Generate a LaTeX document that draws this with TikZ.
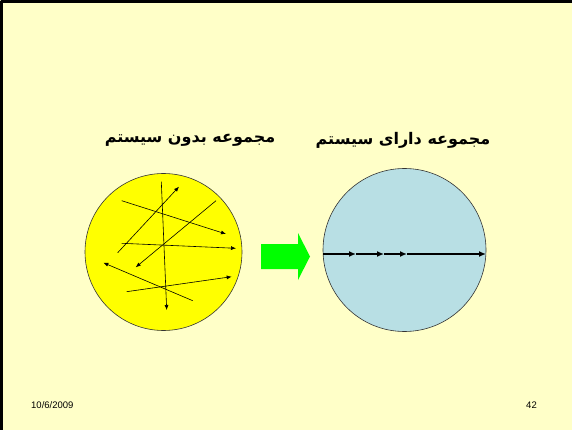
\documentclass[tikz,border=0pt]{standalone}
\usepackage{fontspec}
\setmainfont{Liberation Sans}
\newfontfamily\arabicfont[Script=Arabic]{DejaVu Sans}
\TeXXeTstate=1
\usetikzlibrary{arrows.meta}
\definecolor{slidebg}{HTML}{FFFFC8}
\definecolor{setyellow}{HTML}{FFFF00}
\definecolor{setblue}{HTML}{B8DFE4}
\definecolor{goarrow}{HTML}{00FF00}
\tikzset{
  loose/.style={line width=0.6pt, -{Latex[length=5pt,width=4pt]}},
  ordered/.style={line width=1.5pt, -{Latex[length=7pt,width=6pt]}},
  settitle/.style={font=\arabicfont\bfseries\fontsize{16}{18}\selectfont, inner sep=0pt},
  footer/.style={font=\fontsize{9.5}{11}\selectfont, inner sep=0pt}
}
\begin{document}
\begin{tikzpicture}[x=1pt, y=-1pt, line join=round]
    % fondo de la diapositiva 572 x 430
    \fill[slidebg] (0,0) rectangle (572,430);
    \useasboundingbox (0,0) rectangle (572,430);
    \draw[line width=3pt] (1.5,430) -- (1.5,1.5) -- (572,1.5);
    % titulos
    \node[settitle] (tleft) at (190,140) {\beginR مجموعه بدون سیستم\endR};
    \node[settitle] (tright) at (403,140) {\beginR مجموعه دارای سیستم\endR};
    % conjunto sin sistema
    \fill[setyellow] (163.5,252) circle (78.5);
    \draw[line width=0.6pt, black!80] (163.5,252) circle (78.5);
    \coordinate (a1) at (117.7,252.7); \coordinate (b1) at (179,186.7);
    \coordinate (a2) at (121.7,200.7); \coordinate (b2) at (226,234);
    \coordinate (a3) at (216,200.7);   \coordinate (b3) at (135.7,267.3);
    \coordinate (a4) at (161.3,181.7); \coordinate (b4) at (166.7,310);
    \coordinate (a5) at (121.7,243.3); \coordinate (b5) at (236,248.3);
    \coordinate (a6) at (192.7,300.7); \coordinate (b6) at (103.3,262.7);
    \coordinate (a7) at (126.7,291.7); \coordinate (b7) at (231.7,276.7);
    \foreach \i in {1,...,7}
        \draw[loose] (a\i) -- (b\i);
    % flecha verde
    \fill[goarrow] (261,244) -- (298,244) -- (298,233) -- (310,256.5)
        -- (298,280) -- (298,269) -- (261,269) -- cycle;
    % conjunto con sistema
    \fill[setblue] (404.5,250) circle (81.5);
    \draw[line width=0.6pt, black!80] (404.5,250) circle (81.5);
    \coordinate (p0) at (323,254); \coordinate (p1) at (356,254);
    \coordinate (p2) at (384,254); \coordinate (p3) at (407,254);
    \coordinate (p4) at (486,254);
    \draw[ordered] (p0) -- (p1);
    \draw[ordered] (p1) -- (p2);
    \draw[ordered] (p2) -- (p3);
    \draw[ordered] (p3) -- (p4);
    % pie
    \node[footer, anchor=west] (date) at (31,405) {10/6/2009};
    \node[footer, anchor=east] (page) at (537,405) {42};
\end{tikzpicture}
\end{document}
